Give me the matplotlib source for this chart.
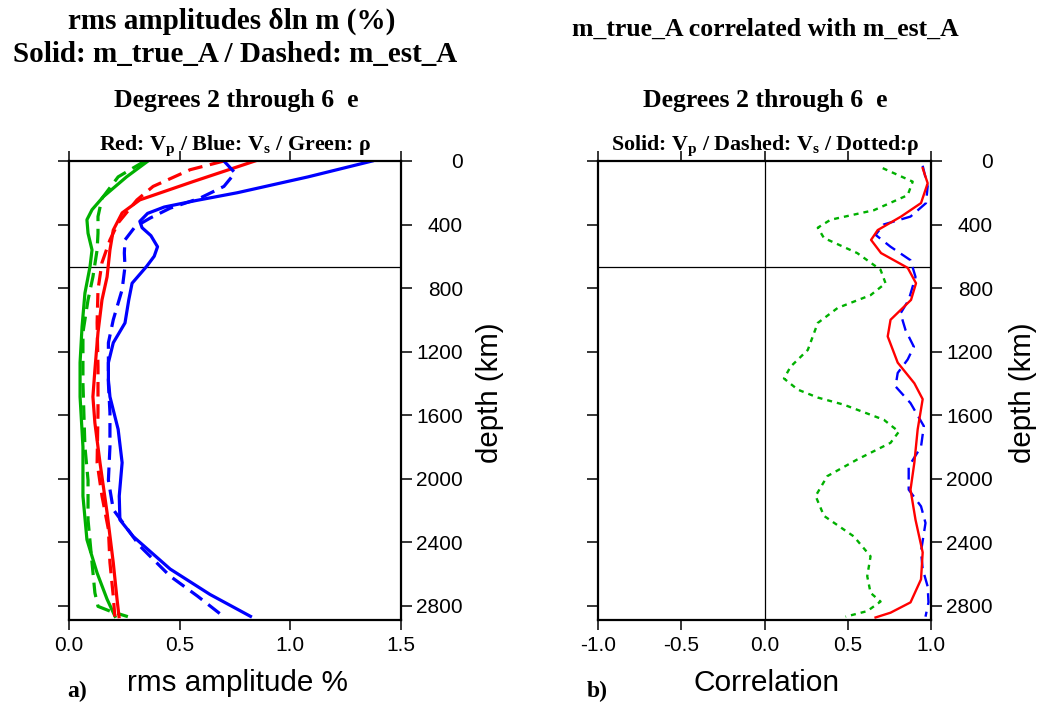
import numpy as np
import matplotlib
matplotlib.use('Agg')
import matplotlib.pyplot as plt

plt.rcParams['axes.unicode_minus'] = False
plt.rcParams['lines.scale_dashes'] = False
plt.rcParams['mathtext.fontset'] = 'custom'
plt.rcParams['mathtext.rm'] = 'Liberation Serif:bold'
plt.rcParams['mathtext.bf'] = 'Liberation Serif:bold'
plt.rcParams['mathtext.it'] = 'Liberation Serif:bold'

# ---- data ----
# panel a) rms amplitude (%) vs depth (km)
vs_true_depth = [0, 100, 200, 250, 290, 330, 380, 420, 470, 540, 600, 665, 770, 875, 1020,
                 1145, 1270, 1380, 1485, 1690, 1900, 2110, 2260, 2365, 2570, 2730, 2868]
vs_true_amp = [1.37, 1.08, 0.76, 0.57, 0.43, 0.355, 0.32, 0.33, 0.37, 0.40, 0.385, 0.35,
               0.285, 0.27, 0.253, 0.2, 0.178, 0.178, 0.185, 0.222, 0.24, 0.227, 0.23, 0.29,
               0.457, 0.637, 0.82]
vs_est_depth = [0, 75, 160, 235, 297, 360, 415, 497, 580, 665, 810, 1000, 1145, 1400, 1585,
                1800, 2010, 2195, 2425, 2615, 2740, 2860]
vs_est_amp = [0.70, 0.75, 0.70, 0.59, 0.457, 0.366, 0.298, 0.253, 0.25, 0.253, 0.24, 0.2,
              0.178, 0.178, 0.185, 0.185, 0.178, 0.2, 0.32, 0.457, 0.58, 0.69]
vp_true_depth = [0, 130, 245, 327, 435, 560, 730, 875, 1080, 1315, 1485, 1650, 1900, 2215,
                 2530, 2760, 2870]
vp_true_amp = [0.84, 0.56, 0.32, 0.24, 0.2, 0.185, 0.172, 0.149, 0.131, 0.117, 0.108, 0.117,
               0.14, 0.172, 0.2, 0.217, 0.226]
vp_est_depth = [0, 55, 160, 245, 390, 497, 640, 810, 1020, 1295, 1440, 1585, 1900, 2110, 2320,
                2530, 2740, 2870]
vp_est_amp = [0.70, 0.547, 0.38, 0.307, 0.222, 0.185, 0.149, 0.131, 0.127, 0.131, 0.131,
              0.131, 0.127, 0.149, 0.178, 0.185, 0.2, 0.207]
rho_true_depth = [0, 100, 225, 307, 370, 455, 560, 665, 832, 1042, 1270, 1485, 1800, 2110,
                  2385, 2595, 2760, 2868]
rho_true_amp = [0.357, 0.26, 0.155, 0.104, 0.081, 0.086, 0.104, 0.095, 0.072, 0.059, 0.05,
                0.05, 0.063, 0.063, 0.081, 0.127, 0.172, 0.208]
rho_est_depth = [0, 100, 235, 350, 455, 560, 730, 875, 1080, 1400, 1800, 2010, 2260, 2530,
                 2720, 2805, 2835, 2870]
rho_est_amp = [0.343, 0.222, 0.149, 0.131, 0.131, 0.127, 0.108, 0.086, 0.063, 0.063, 0.072,
               0.086, 0.086, 0.104, 0.117, 0.131, 0.185, 0.266]

# panel b) correlation vs depth (km)
corr_vp_depth = [45, 140, 265, 350, 435, 497, 580, 673, 770, 875, 1000, 1105, 1270, 1400,
                 1500, 1690, 1900, 2070, 2260, 2465, 2635, 2780, 2845, 2875]
corr_vp = [0.95, 0.98, 0.94, 0.82, 0.68, 0.64, 0.70, 0.86, 0.91, 0.88, 0.757, 0.74, 0.80, 0.90,
           0.95, 0.92, 0.90, 0.877, 0.907, 0.95, 0.94, 0.877, 0.757, 0.667]
corr_vs_depth = [30, 160, 265, 350, 400, 465, 540, 625, 730, 875, 960, 1065, 1170, 1250, 1335,
                 1420, 1525, 1670, 1800, 1925, 2070, 2175, 2280, 2460, 2570, 2680, 2780, 2870]
corr_vs = [0.95, 0.98, 0.97, 0.877, 0.716, 0.667, 0.757, 0.877, 0.907, 0.866, 0.817, 0.847,
           0.897, 0.86, 0.80, 0.787, 0.877, 0.957, 0.94, 0.866, 0.866, 0.94, 0.967, 0.94, 0.95,
           0.98, 0.985, 0.967]
corr_rho_depth = [45, 130, 215, 310, 370, 420, 485, 580, 685, 770, 845, 925, 1020, 1190, 1295,
                  1370, 1440, 1490, 1535, 1630, 1705, 1775, 1880, 1985, 2110, 2235, 2365, 2490,
                  2615, 2720, 2775, 2835, 2870]
corr_rho = [0.71, 0.89, 0.86, 0.657, 0.397, 0.32, 0.357, 0.557, 0.697, 0.727, 0.637, 0.44,
            0.32, 0.26, 0.157, 0.117, 0.2, 0.32, 0.477, 0.717, 0.807, 0.757, 0.557, 0.377,
            0.307, 0.357, 0.537, 0.637, 0.617, 0.637, 0.697, 0.617, 0.487]

depth_ticks = [0, 400, 800, 1200, 1600, 2000, 2400, 2800]
depth_labels = ['0', '400', '800', '1200', '1600', '2000', '2400', '2800']
amp_ticks = [0.0, 0.5, 1.0, 1.5]
amp_labels = ['0.0', '0.5', '1.0', '1.5']
corr_ticks = [-1.0, -0.5, 0.0, 0.5, 1.0]
corr_labels = ['-1.0', '-0.5', '0.0', '0.5', '1.0']
cmb_depth = 2891
tz_depth = 670

red, blue, green = '#ff0000', '#0000ff', '#00b000'
serif = 'Liberation Serif'
sans = 'Liberation Sans'

W, H = 1037, 702
fig = plt.figure(figsize=(W / 100, H / 100), dpi=100)


def fx(px):
    return px / W


def fy(py):
    return 1 - py / H


def style_axis(ax, xticks, xlabels):
    ax.set_ylim(cmb_depth, 0)
    ax.set_xticks(xticks)
    ax.set_xticklabels(xlabels, fontfamily=sans, fontsize=15)
    ax.set_yticks(depth_ticks)
    ax.set_yticklabels(depth_labels, fontfamily=sans, fontsize=15)
    ax.tick_params(axis='x', direction='out', top=True, bottom=True, labeltop=False,
                   length=7.5, width=1.1, pad=4)
    ax.tick_params(axis='y', direction='out', left=True, right=True, labelleft=False,
                   labelright=True, length=8, width=1.1, pad=36.5)
    for t in ax.yaxis.get_major_ticks():
        t.label2.set_horizontalalignment('right')
    for s in ax.spines.values():
        s.set_linewidth(1.6)
    ax.axhline(tz_depth, color='black', lw=0.9, zorder=1)


# ---- panel a ----
ax1 = fig.add_axes([fx(69), fy(620), fx(332), 459 / H])
ax1.set_xlim(0, 1.5)
lw = 2.3
dash = (0, (10.5, 5.5))
ax1.plot(rho_true_amp, rho_true_depth, color=green, lw=lw)
ax1.plot(rho_est_amp, rho_est_depth, color=green, lw=lw, linestyle=dash)
ax1.plot(vp_true_amp, vp_true_depth, color=red, lw=lw)
ax1.plot(vp_est_amp, vp_est_depth, color=red, lw=lw, linestyle=dash)
ax1.plot(vs_true_amp, vs_true_depth, color=blue, lw=lw)
ax1.plot(vs_est_amp, vs_est_depth, color=blue, lw=lw, linestyle=dash)
style_axis(ax1, amp_ticks, amp_labels)

# ---- panel b ----
ax2 = fig.add_axes([fx(598), fy(620), fx(333), 459 / H])
ax2.set_xlim(-1, 1)
ax2.axvline(0, color='black', lw=0.9, zorder=1)
ax2.plot(corr_rho, corr_rho_depth, color=green, lw=1.7, linestyle=(0, (3.6, 3.6)))
ax2.plot(corr_vs, corr_vs_depth, color=blue, lw=1.7, linestyle=(0, (8.5, 5)))
ax2.plot(corr_vp, corr_vp_depth, color=red, lw=1.7)
style_axis(ax2, corr_ticks, corr_labels)

# ---- texts ----
bold = dict(fontfamily=serif, fontweight='bold', ha='center', va='baseline')
fig.text(fx(232), fy(29), 'rms amplitudes δln m (%)', fontsize=21, **bold)
fig.text(fx(235), fy(62), 'Solid: m_true_A / Dashed: m_est_A', fontsize=21, **bold)
fig.text(fx(765), fy(36), 'm_true_A correlated with m_est_A', fontsize=18.5, **bold)
fig.text(fx(236), fy(107), 'Degrees 2 through 6  e', fontsize=18.5, **bold)
fig.text(fx(765), fy(107), 'Degrees 2 through 6  e', fontsize=18.5, **bold)
fig.text(fx(235), fy(150), r'Red: V$_\mathrm{p}$ / Blue: V$_\mathrm{s}$ / Green: ρ',
         fontsize=15.8, **bold)
fig.text(fx(765), fy(150), r'Solid: V$_\mathrm{p}$ / Dashed: V$_\mathrm{s}$ / Dotted:ρ',
         fontsize=15.8, **bold)

fig.text(fx(67), fy(697), 'a)', fontsize=17, fontfamily=serif, fontweight='bold',
         ha='left', va='baseline')
fig.text(fx(587), fy(697), 'b)', fontsize=17, fontfamily=serif, fontweight='bold',
         ha='left', va='baseline')
fig.text(fx(237), fy(691), 'rms amplitude %', fontsize=21.3, fontfamily=sans,
         ha='center', va='baseline')
fig.text(fx(767), fy(691), 'Correlation', fontsize=21.5, fontfamily=sans,
         ha='center', va='baseline')
fig.text(fx(490), fy(393), 'depth (km)', fontsize=21.2, fontfamily=sans, rotation=90,
         ha='center', va='center')
fig.text(fx(1023), fy(393), 'depth (km)', fontsize=21.2, fontfamily=sans, rotation=90,
         ha='center', va='center')

fig.savefig('out.png', dpi=100)
